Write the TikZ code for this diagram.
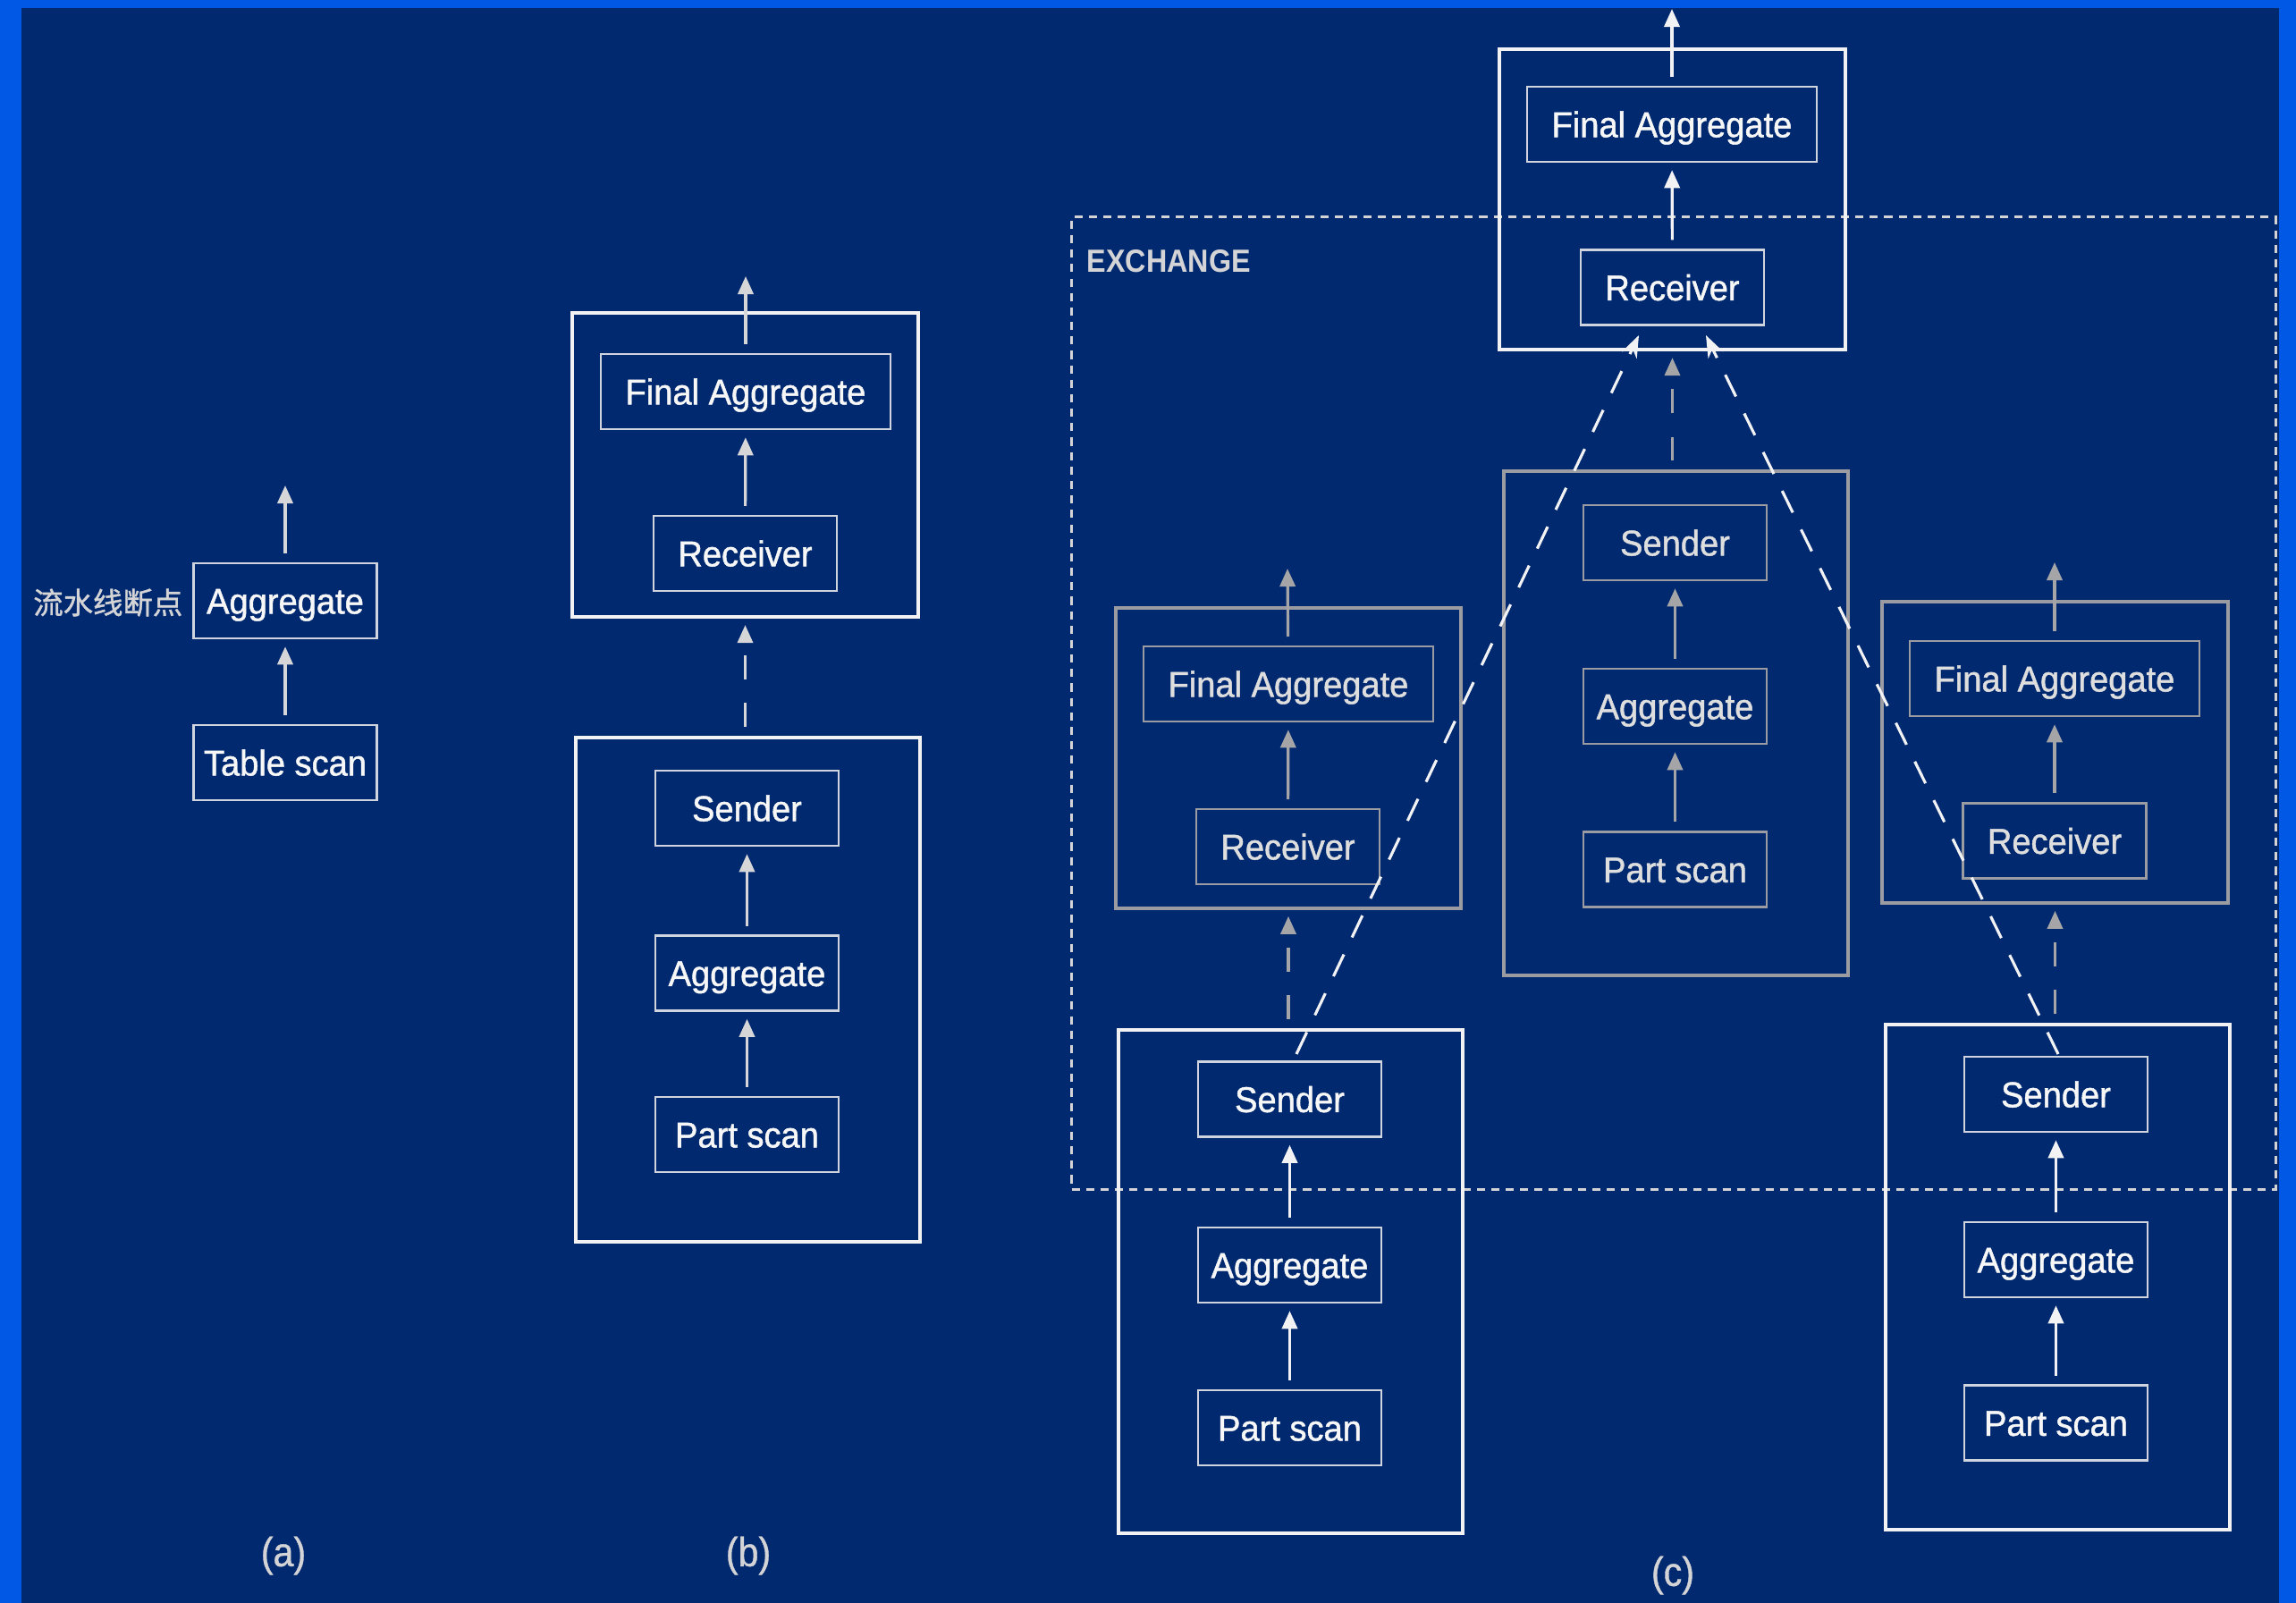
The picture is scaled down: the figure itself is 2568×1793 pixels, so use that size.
\documentclass[tikz,border=0pt]{standalone}
\usepackage{fontspec}
\setmainfont{Liberation Sans}
\newfontfamily\boxfont[FakeStretch=0.95,FakeBold=1.2]{Liberation Sans}
\newfontfamily\condfont[FakeStretch=0.9,FakeBold=0.8]{Liberation Sans}
\newfontfamily\exfont[FakeStretch=0.9]{Liberation Sans}
\newfontfamily\cjk[FakeBold=1.2]{Noto Sans CJK SC}
\usetikzlibrary{arrows.meta}
\definecolor{navy}{RGB}{0,41,112}
\definecolor{brightblue}{RGB}{0,88,228}
\definecolor{wline}{RGB}{242,242,244}
\definecolor{wtext}{RGB}{247,247,247}
\definecolor{boxl}{RGB}{208,212,222}
\definecolor{gline}{RGB}{154,156,162}
\definecolor{gtext}{RGB}{222,222,222}
\definecolor{garrow}{RGB}{165,165,168}
\definecolor{larrow}{RGB}{214,214,216}
\definecolor{labc}{RGB}{212,212,214}
\tikzset{
  opbox/.style={draw=boxl, line width=0.65pt, minimum width=2.05cm, minimum height=0.84cm,
    inner sep=0pt, text height=8.2pt, text depth=0pt, text=wtext,
    font=\boxfont\fontsize{11.4pt}{13pt}\selectfont},
  wide/.style={minimum width=3.24cm},
  gbox/.style={opbox, draw=gline, text=gtext},
  frame/.style={draw=wline, line width=1.15pt, inner sep=0pt},
  gframe/.style={draw=gline, line width=1.0pt, inner sep=0pt},
  flow/.style={draw=larrow, line width=0.9pt, -{Triangle[width=4.9pt,length=5.7pt]},
    shorten <=2.8pt, shorten >=2.3pt},
  wflow/.style={flow, draw=wline},
  gflow/.style={flow, draw=garrow},
  outarrow/.style={shorten >=0pt},
  dflow/.style={flow, dash pattern=on 7.6pt off 7.6pt, shorten >=2pt},
  gdflow/.style={dflow, draw=garrow},
  diag/.style={draw=wline, line width=0.9pt, dash pattern=on 7.7pt off 6pt,
    -{Stealth[width=5.2pt,length=7pt]}},
  xchg/.style={draw=labc, line width=0.7pt, dash pattern=on 2.6pt off 2pt, inner sep=0pt},
  sublabel/.style={text=labc, font=\condfont\fontsize{13pt}{15pt}\selectfont, inner sep=0pt}
}
\begin{document}
\begin{tikzpicture}[x=0.01cm,y=-0.01cm]
\useasboundingbox (0,0) rectangle (2568,1793);
\fill[brightblue] (0,0) rectangle (2568,1793);
\fill[navy] (24,9) rectangle (2549,1793);

% ---------------- (a)
\node[opbox] (aAgg) at (319,672) {Aggregate};
\node[opbox] (aTS) at (319,853) {Table scan};
\coordinate (aOut) at (319,543);
\node[anchor=east, inner sep=0pt, text=labc, font=\cjk\fontsize{9.5pt}{11pt}\selectfont] (aLab) at (205,674) {流水线断点};
\draw[flow] (aTS) -- (aAgg);
\draw[flow, outarrow] (aAgg) -- (aOut);
\node[sublabel] (la) at (317,1740) {(a)};

% ---------------- (b)
\node[frame, minimum width=3.87cm, minimum height=3.40cm] (bTop) at (833.5,520) {};
\node[opbox, wide] (bFA) at (834,438) {Final Aggregate};
\node[opbox] (bRc) at (833.5,619) {Receiver};
\coordinate (bOut) at (834,309);
\node[frame, minimum width=3.85cm, minimum height=5.64cm] (bLow) at (836.5,1107) {};
\node[opbox] (bSd) at (835.5,904) {Sender};
\node[opbox] (bAg) at (835.5,1088.5) {Aggregate};
\node[opbox] (bPs) at (835.5,1269) {Part scan};
\draw[flow] (bRc) -- (bFA);
\draw[flow, outarrow] (bFA) -- (bOut);
\draw[flow] (bPs) -- (bAg);
\draw[flow] (bAg) -- (bSd);
\draw[dflow] (bLow.north -| bTop) -- (bTop.south);
\node[sublabel] (lb) at (837,1740) {(b)};

% ---------------- (c)
\node[xchg, minimum width=13.46cm, minimum height=10.87cm] (exch) at (1872,786.5) {};
\node[anchor=west, inner sep=0pt, text=labc, font=\exfont\bfseries\fontsize{10.2pt}{12pt}\selectfont] (exchLab) at (1215,292) {EXCHANGE};

% top
\node[frame, minimum width=3.87cm, minimum height=3.36cm] (cTop) at (1870.5,223) {};
\node[opbox, wide] (cFA) at (1870,139) {Final Aggregate};
\node[opbox] (cRc) at (1870.5,321.5) {Receiver};
\coordinate (cOut) at (1870,10);
\draw[wflow] (cRc) -- (cFA);
\draw[wflow, outarrow] (cFA) -- (cOut);

% middle gray
\node[gframe, minimum width=3.85cm, minimum height=5.64cm] (cMid) at (1874.5,809) {};
\node[gbox] (mSd) at (1873.5,607) {Sender};
\node[gbox] (mAg) at (1873.5,790) {Aggregate};
\node[gbox] (mPs) at (1873.5,972.5) {Part scan};
\draw[gflow] (mPs) -- (mAg);
\draw[gflow] (mAg) -- (mSd);
\draw[gdflow] (cMid.north -| cTop) -- (cTop.south);

% left gray
\node[gframe, minimum width=3.86cm, minimum height=3.36cm] (cL) at (1441,848) {};
\node[gbox, wide] (lFA) at (1441,765) {Final Aggregate};
\node[gbox] (lRc) at (1440.5,947) {Receiver};
\coordinate (lOut) at (1440,636);
\draw[gflow] (lRc) -- (lFA);
\draw[gflow, outarrow] (lFA) -- (lOut);

% right gray
\node[gframe, minimum width=3.87cm, minimum height=3.37cm] (cR) at (2298.5,841.5) {};
\node[gbox, wide] (rFA) at (2298,759) {Final Aggregate};
\node[gbox] (rRc) at (2298,940.5) {Receiver};
\coordinate (rOut) at (2298,629);
\draw[gflow] (rRc) -- (rFA);
\draw[gflow, outarrow] (rFA) -- (rOut);

% lower left white
\node[frame, minimum width=3.85cm, minimum height=5.63cm] (cLL) at (1443.5,1433.5) {};
\node[opbox] (llSd) at (1442.5,1229.5) {Sender};
\node[opbox] (llAg) at (1442.5,1415) {Aggregate};
\node[opbox] (llPs) at (1442.5,1597) {Part scan};
\draw[wflow] (llPs) -- (llAg);
\draw[wflow] (llAg) -- (llSd);
\draw[gdflow] (cLL.north -| cL) -- (cL.south);

% lower right white
\node[frame, minimum width=3.85cm, minimum height=5.65cm] (cLR) at (2301.5,1428.5) {};
\node[opbox] (lrSd) at (2299.5,1224) {Sender};
\node[opbox] (lrAg) at (2299.5,1409) {Aggregate};
\node[opbox] (lrPs) at (2299.5,1591.5) {Part scan};
\draw[wflow] (lrPs) -- (lrAg);
\draw[wflow] (lrAg) -- (lrSd);
\draw[gdflow] (cLR.north -| cR) -- (cR.south);

% diagonal exchange links
\coordinate (dlS) at (1450,1179);
\coordinate (dlE) at (1833,375);
\coordinate (drS) at (2302,1179);
\coordinate (drE) at (1908,375);
\draw[diag] (dlS) -- (dlE);
\draw[diag] (drS) -- (drE);

\node[sublabel] (lc) at (1871,1762) {(c)};
\end{tikzpicture}
\end{document}
